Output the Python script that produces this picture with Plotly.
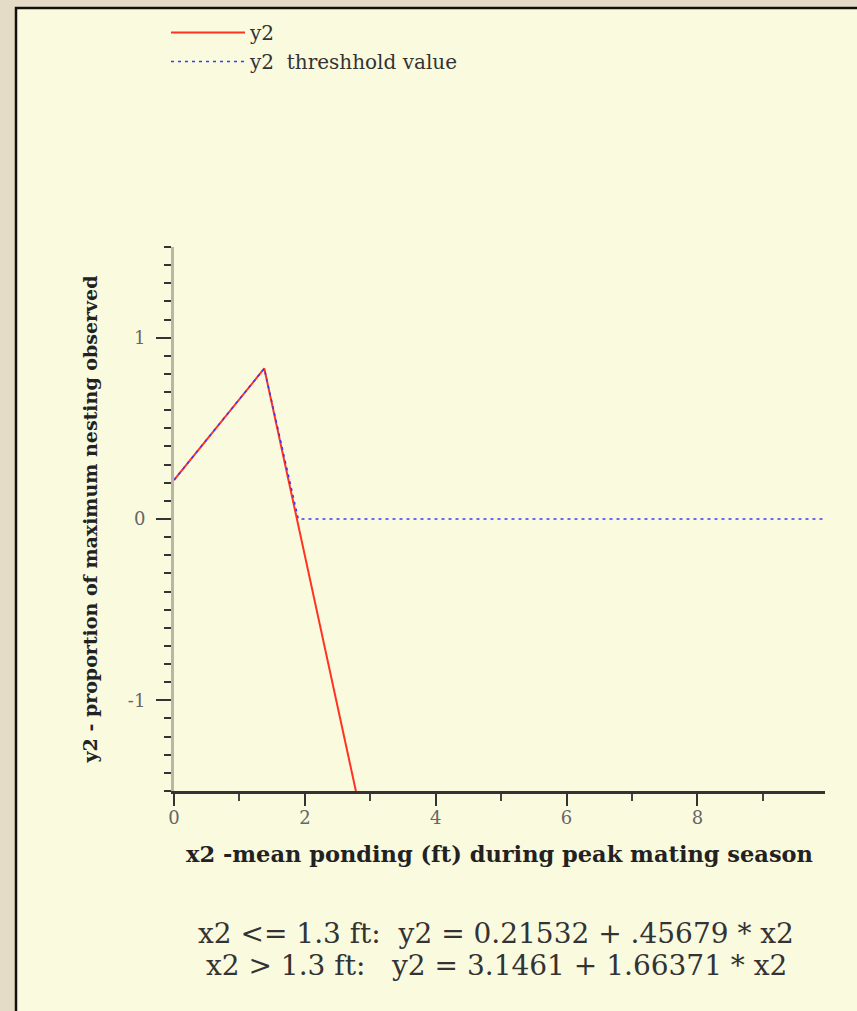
import plotly.graph_objects as go

# ---- data ----
y2_x = [0.0, 1.38, 2.78]
y2_y = [0.215, 0.83, -1.5]
thr_x = [0.0, 1.38, 1.90, 9.95]
thr_y = [0.215, 0.83, 0.0, 0.0]

x_tick_vals = [0, 2, 4, 6, 8]
x_tick_text = ["0", "2", "4", "6", "8"]
y_tick_vals = [-1, 0, 1]
y_tick_text = ["-1", "0", "1"]

series_names = ["y2", "y2  threshhold value"]
x_title = "x2 -mean ponding (ft) during peak mating season"
y_title = "y2 - proportion of maximum nesting observed"
equations = [
    "x2 &lt;= 1.3 ft:  y2 = 0.21532 + .45679 * x2",
    "x2 &gt; 1.3 ft:   y2 = 3.1461 + 1.66371 * x2",
]

W, H = 857, 1011
L, R, T, B = 174, 32, 247, 220
PW, PH = W - L - R, H - T - B

def px_x(p):
    return (p - L) / PW

def px_y(p):
    return (H - B - p) / PH

SERIF = "DejaVu Serif"
PANEL = "#fafadf"
OUTER = "#e4dcc6"

fig = go.Figure()
fig.add_trace(go.Scatter(
    x=y2_x, y=y2_y, mode="lines", name=series_names[0],
    line=dict(color="#ff3322", width=2),
))
fig.add_trace(go.Scatter(
    x=thr_x, y=thr_y, mode="lines", name=series_names[1],
    line=dict(color="#3a3aff", width=1.5, dash="3px,4px"),
))

# panel with black border
fig.add_shape(type="rect", xref="paper", yref="paper", layer="below",
              x0=px_x(16), x1=px_x(W + 10), y0=px_y(H + 10), y1=px_y(8),
              fillcolor=PANEL, line=dict(color="#111111", width=2.5))

for i, eq in enumerate(equations):
    fig.add_annotation(xref="paper", yref="paper", x=px_x(496), y=px_y(933 + 32 * i),
                       text=eq, showarrow=False, xanchor="center", yanchor="middle",
                       font=dict(family=SERIF, size=28, color="#333333"))

fig.update_layout(
    width=W, height=H,
    margin=dict(l=L, r=R, t=T, b=B, pad=0),
    paper_bgcolor=OUTER,
    plot_bgcolor="rgba(0,0,0,0)",
    showlegend=True,
    legend=dict(x=px_x(166), y=px_y(13), xanchor="left", yanchor="top",
                bgcolor="rgba(0,0,0,0)", itemwidth=74,
                font=dict(family=SERIF, size=20, color="#333333"),
                tracegroupgap=0),
    xaxis=dict(
        range=[0, 9.95], showgrid=False, zeroline=False,
        showline=True, linecolor="#333333", linewidth=2.5,
        tickvals=x_tick_vals, ticktext=x_tick_text,
        ticks="outside", ticklen=12, tickwidth=2, tickcolor="#333333",
        minor=dict(dtick=1, tick0=0, ticks="outside", ticklen=7, tickwidth=2, tickcolor="#444444"),
        tickfont=dict(family=SERIF, size=18, color="#666666"),
        ticklabelstandoff=-3,
        title=dict(text="<b>" + x_title + "</b>", standoff=19,
                   font=dict(family=SERIF, size=22.5, color="#222222")),
    ),
    yaxis=dict(
        range=[-1.5, 1.5], showgrid=False, zeroline=False,
        showline=True, linecolor="#bab6a2", linewidth=3,
        tickvals=y_tick_vals, ticktext=y_tick_text,
        ticks="outside", ticklen=15, tickwidth=2, tickcolor="#333333",
        minor=dict(dtick=0.1, tick0=0, ticks="outside", ticklen=7, tickwidth=2, tickcolor="#333333"),
        tickfont=dict(family=SERIF, size=18, color="#666666"),
        ticklabelstandoff=7,
        title=dict(text="<b>" + y_title + "</b>", standoff=26,
                   font=dict(family=SERIF, size=19, color="#222222")),
    ),
)

fig.write_html("out.html")
